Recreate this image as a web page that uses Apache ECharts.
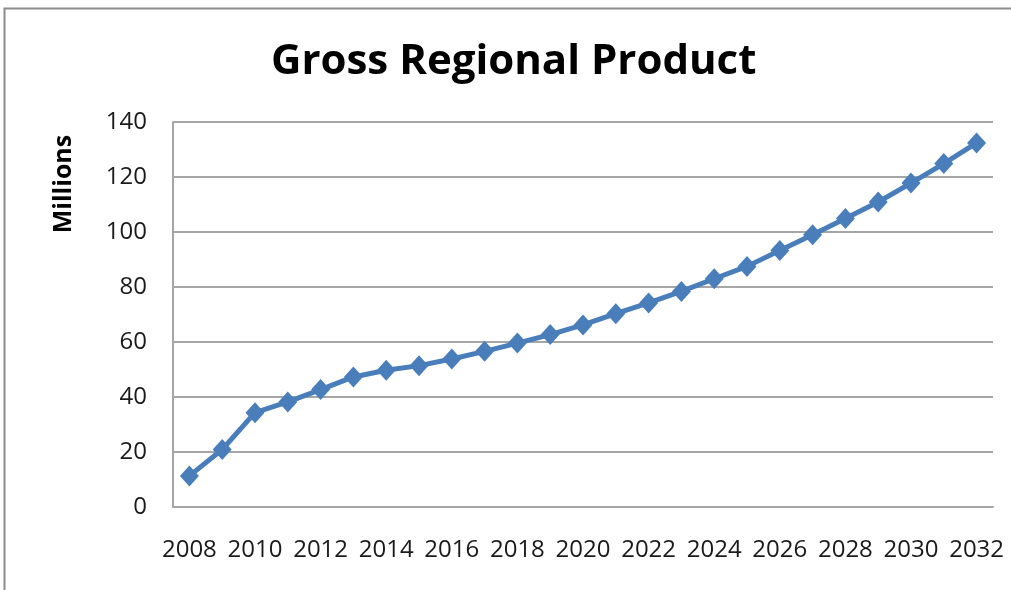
<!DOCTYPE html>
<html>
<head>
<meta charset="utf-8">
<script src="https://cdn.jsdelivr.net/npm/echarts@6/dist/echarts.min.js"></script>
<style>
  html, body { margin: 0; padding: 0; background: #ffffff; }
  #chart { width: 1011px; height: 590px; }
</style>
</head>
<body>
<div id="chart"></div>
<script>
// Years on the category axis
const years = ['2008','2009','2010','2011','2012','2013','2014','2015','2016','2017','2018','2019','2020',
               '2021','2022','2023','2024','2025','2026','2027','2028','2029','2030','2031','2032'];
// Gross regional product, millions
const grp = [11.3, 20.9, 34.3, 38.2, 42.7, 47.3, 49.7, 51.4, 53.8, 56.6, 59.6, 62.7, 66.2,
             70.3, 74.2, 78.4, 83.0, 87.5, 93.3, 99.0, 104.9, 110.9, 117.8, 124.9, 132.4];
const titleText = 'Gross Regional Product';
const yAxisName = 'Millions';

const font = '"Open Sans", Lato, "Liberation Sans", sans-serif';
const chart = echarts.init(document.getElementById('chart'), null, { renderer: 'canvas' });

chart.setOption({
  animation: false,
  backgroundColor: '#ffffff',
  graphic: [{
    // outer chart frame
    type: 'rect',
    shape: { x: 4.5, y: 8.5, width: 1100, height: 700 },
    style: { fill: 'none', stroke: '#8c8c8c', lineWidth: 2 },
    silent: true
  }, {
    // value-axis title, rotated and set near the top of the axis
    type: 'text',
    x: 64, y: 184,
    rotation: Math.PI / 2,
    style: {
      text: yAxisName,
      fontFamily: font, fontSize: 25, fontWeight: 'bold', fill: '#000000',
      align: 'center', verticalAlign: 'middle'
    },
    silent: true
  }],
  title: {
    text: titleText,
    left: 266,
    top: 36,
    textStyle: { fontFamily: font, fontSize: 42, fontWeight: 'bold', color: '#000000' }
  },
  grid: { left: 173, right: 18, top: 122, bottom: 83, containLabel: false },
  xAxis: {
    type: 'category',
    data: years,
    boundaryGap: true,
    axisLine: { show: true, lineStyle: { color: '#a6a6a6', width: 2 } },
    axisTick: { show: false },
    axisLabel: { interval: 1, margin: 31, fontFamily: font, fontSize: 24, color: '#1a1a1a' },
    splitLine: { show: false }
  },
  yAxis: {
    type: 'value',
    min: 0, max: 140, interval: 20,
    axisLine: { show: true, lineStyle: { color: '#a6a6a6', width: 2 } },
    axisTick: { show: false },
    axisLabel: { margin: 26, fontFamily: font, fontSize: 24, color: '#1a1a1a' },
    splitLine: { show: true, lineStyle: { color: '#a6a6a6', width: 2 } }
  },
  series: [{
    type: 'line',
    data: grp,
    symbol: 'diamond',
    symbolSize: [19, 21],
    lineStyle: { color: '#4a7ebb', width: 5 },
    itemStyle: { color: '#4a7ebb' }
  }]
});
</script>
</body>
</html>
